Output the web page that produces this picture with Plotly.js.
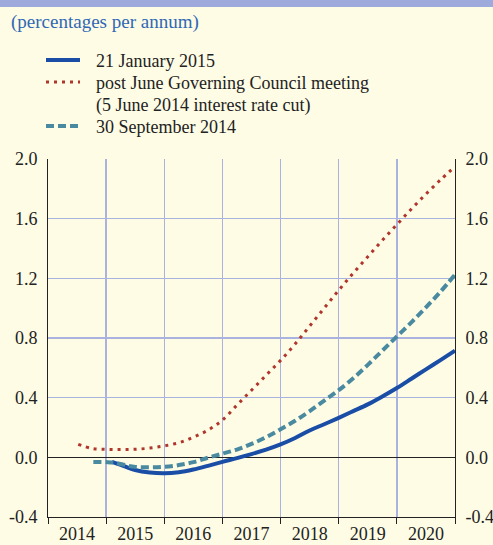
<!DOCTYPE html>
<html>
<head>
<meta charset="utf-8">
<script src="https://cdn.plot.ly/plotly-3.0.1.min.js"></script>
<style>html,body{margin:0;padding:0;background:#fefce5;}</style>
</head>
<body>
<div id="chart" style="width:493px;height:545px;"></div>
<script>
// Data (decimal years, percentages per annum)
const janX = [2015.1,2015.25,2015.5,2015.75,2016.0,2016.25,2016.5,2016.75,2017.0,2017.25,2017.5,2017.75,2018.0,2018.25,2018.5,2018.75,2019.0,2019.25,2019.5,2019.75,2020.0,2020.25,2020.5,2020.75,2021.0];
const janY = [-0.03,-0.05,-0.085,-0.102,-0.107,-0.1,-0.082,-0.057,-0.03,-0.005,0.022,0.052,0.087,0.13,0.18,0.222,0.265,0.31,0.355,0.408,0.465,0.527,0.59,0.652,0.715];

const juneX = [2014.52,2014.75,2015.0,2015.25,2015.5,2015.75,2016.0,2016.25,2016.5,2016.75,2017.0,2017.25,2017.5,2017.75,2018.0,2018.25,2018.5,2018.75,2019.0,2019.25,2019.5,2019.75,2020.0,2020.25,2020.5,2020.75,2021.0];
const juneY = [0.087,0.06,0.053,0.052,0.054,0.062,0.077,0.098,0.135,0.182,0.25,0.35,0.45,0.55,0.65,0.76,0.88,1.0,1.12,1.235,1.345,1.455,1.56,1.665,1.765,1.86,1.95];

const septX = [2014.78,2015.0,2015.12,2015.3,2015.5,2015.75,2016.0,2016.25,2016.5,2016.75,2017.0,2017.25,2017.5,2017.75,2018.0,2018.25,2018.5,2018.75,2019.0,2019.25,2019.5,2019.75,2020.0,2020.25,2020.5,2020.75,2021.0];
const septY = [-0.031,-0.032,-0.035,-0.05,-0.064,-0.067,-0.064,-0.052,-0.032,-0.003,0.025,0.052,0.09,0.135,0.188,0.245,0.31,0.38,0.45,0.53,0.62,0.715,0.81,0.905,1.005,1.11,1.225];

const seriesNames = ['21 January 2015', 'post June Governing Council meeting', '(5 June 2014 interest rate cut)', '30 September 2014'];
const yearLabels = ['2014','2015','2016','2017','2018','2019','2020'];
const yearMid = [2014.5,2015.5,2016.5,2017.5,2018.5,2019.5,2020.5];
const yTicks = [-0.4,0.0,0.4,0.8,1.2,1.6,2.0];
const yTickText = ['-0.4','0.0','0.4','0.8','1.2','1.6','2.0'];

const serif = '"Liberation Serif", serif';
const gridCol = '#aab3e0';
const colJan = '#1a4ea6', colJune = '#b0352c', colSept = '#4a8aa0';
const dashJune = '3px,5px', dashSept = '8px,4px';

const traces = [
  {x: janX, y: janY, name: seriesNames[0], mode: 'lines',
   line: {color: colJan, width: 4, shape: 'spline'}},
  {x: juneX, y: juneY, name: seriesNames[1] + ' ' + seriesNames[2], mode: 'lines',
   line: {color: colJune, width: 3, dash: dashJune, shape: 'spline'}},
  {x: septX, y: septY, name: seriesNames[3], mode: 'lines',
   line: {color: colSept, width: 4, dash: dashSept, shape: 'spline'}},
  {x: [], y: [], yaxis: 'y2', mode: 'lines', showlegend: false, hoverinfo: 'skip'}
];

const H = 358; // plot height px
function py(p){ return (517 - p) / H; }
function px(p){ return (p - 48) / 407; }

// legend (drawn manually to match the original layout)
const legendRows = [
  {sym: {color: colJan, width: 4, dash: 'solid'}, y: 60, text: seriesNames[0]},
  {sym: {color: colJune, width: 3, dash: dashJune}, y: 82, text: seriesNames[1]},
  {sym: null, y: 104, text: seriesNames[2]},
  {sym: {color: colSept, width: 4, dash: dashSept}, y: 126, text: seriesNames[3]}
];
const legendShapes = legendRows.filter(r => r.sym).map(r => ({
  type: 'line', xref: 'paper', yref: 'paper', x0: px(46), x1: px(80), y0: py(r.y), y1: py(r.y),
  line: r.sym
}));
const legendAnn = legendRows.map(r => ({
  text: r.text, xref: 'paper', yref: 'paper', x: px(94), y: py(r.y + 1),
  xanchor: 'left', yanchor: 'middle', showarrow: false,
  font: {family: serif, size: 18, color: '#222'}
}));

const layout = {
  width: 493, height: 545,
  margin: {l: 48, r: 38, t: 159, b: 28, pad: 0},
  paper_bgcolor: '#fefce5', plot_bgcolor: '#fefce5',
  font: {family: serif, size: 18, color: '#222'},
  showlegend: false,
  xaxis: {range: [2014, 2021], tickmode: 'array', tickvals: yearMid, ticktext: yearLabels,
          ticks: '', showgrid: false, zeroline: false, showline: true, linecolor: '#222', linewidth: 1,
          tickfont: {family: serif, size: 18, color: '#222'},
          minor: {tickmode: 'linear', tick0: 2014, dtick: 1, ticks: 'outside', ticklen: 6, tickcolor: '#222', tickwidth: 1,
                  showgrid: true, gridcolor: gridCol, gridwidth: 1.5}},
  yaxis: {range: [-0.4, 2.0], tickmode: 'array', tickvals: yTicks, ticktext: yTickText, ticks: '',
          showgrid: true, gridcolor: gridCol, gridwidth: 1.5, zeroline: true, zerolinecolor: '#222', zerolinewidth: 1,
          showline: true, linecolor: '#222', linewidth: 1, ticklabelstandoff: 6,
          tickfont: {family: serif, size: 18, color: '#222'}},
  yaxis2: {range: [-0.4, 2.0], overlaying: 'y', side: 'right', tickmode: 'array', tickvals: yTicks, ticktext: yTickText,
           ticks: '', showgrid: false, zeroline: false, showline: true, linecolor: '#222', linewidth: 1, ticklabelstandoff: 6,
           tickfont: {family: serif, size: 18, color: '#222'}},
  shapes: [
    {type: 'rect', xref: 'paper', yref: 'paper', x0: px(0), x1: px(493), y0: py(7), y1: py(0),
     fillcolor: '#9eaadc', line: {width: 0}, layer: 'below'}
  ].concat(legendShapes),
  annotations: [
    {text: '(percentages per annum)', xref: 'paper', yref: 'paper', x: px(9), y: py(22),
     xanchor: 'left', yanchor: 'middle', showarrow: false,
     font: {family: serif, size: 19, color: '#2f68b5'}}
  ].concat(legendAnn)
};

Plotly.newPlot('chart', traces, layout, {displayModeBar: false, staticPlot: true});
</script>
</body>
</html>
